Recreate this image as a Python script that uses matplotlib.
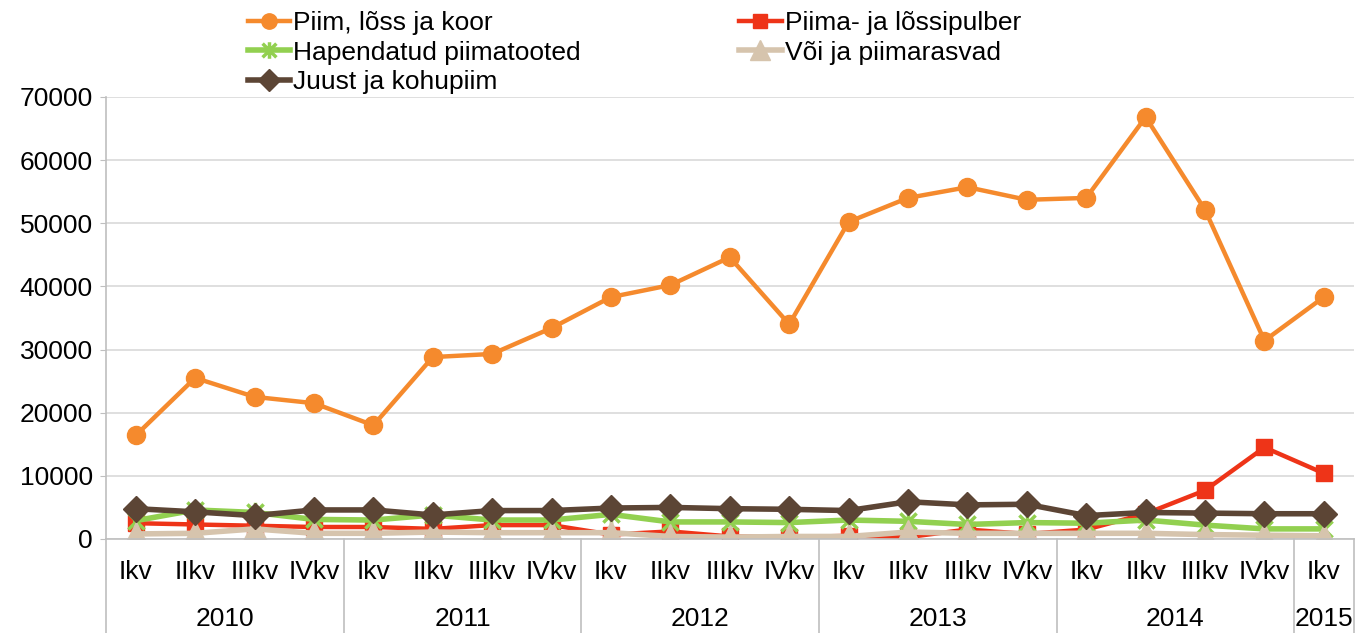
import matplotlib
matplotlib.use("Agg")
import matplotlib.pyplot as plt
import matplotlib.transforms as mtransforms
from matplotlib.path import Path

plt.rcParams['font.family'] = ['Liberation Sans', 'DejaVu Sans']

quarters = ['Ikv', 'IIkv', 'IIIkv', 'IVkv'] * 5 + ['Ikv']
years = ['2010', '2011', '2012', '2013', '2014', '2015']
year_len = [4, 4, 4, 4, 4, 1]

piim = [16400, 25500, 22500, 21500, 18000, 28800, 29300, 33400, 38300, 40200, 44600,
        34000, 50200, 54000, 55700, 53700, 54000, 66800, 52100, 31400, 38300]
pulber = [2500, 2300, 2100, 1900, 1900, 1600, 2200, 2200, 700, 1200, 400,
          300, 500, 300, 1500, 800, 1500, 4000, 7700, 14500, 10400]
hapen = [2900, 4600, 4200, 3100, 3000, 3800, 3000, 3000, 3900, 2700, 2700,
         2600, 3000, 2800, 2300, 2600, 2500, 3000, 2200, 1600, 1600]
voi = [800, 900, 1600, 900, 900, 1100, 1000, 1000, 1000, 400, 300,
       400, 400, 1100, 900, 900, 900, 900, 700, 600, 500]
juust = [4800, 4300, 3700, 4600, 4600, 3800, 4500, 4500, 4900, 5000, 4800,
         4700, 4500, 5900, 5400, 5500, 3700, 4200, 4100, 4000, 4000]

# Excel-like star marker: X with a vertical stroke
star = Path([(-1, -1), (1, 1), (-1, 1), (1, -1), (0, -1.2), (0, 1.2)],
            [Path.MOVETO, Path.LINETO, Path.MOVETO, Path.LINETO, Path.MOVETO, Path.LINETO])

fig = plt.figure(figsize=(13.7, 6.33), dpi=100)
ax = fig.add_axes([0.0774, 0.1485, 0.9106, 0.6985])

x = list(range(len(quarters)))
l1, = ax.plot(x, piim, color='#F58A2D', lw=3.2, marker='o', ms=13, label='Piim, lõss ja koor')
l2, = ax.plot(x, pulber, color='#EE3418', lw=3.2, marker='s', ms=12, label='Piima- ja lõssipulber')
l3, = ax.plot(x, hapen, color='#92D050', lw=4, marker=star, ms=14, mew=2.5, label='Hapendatud piimatooted')
l4, = ax.plot(x, voi, color='#D6C4AD', lw=4, marker='^', ms=17, label='Või ja piimarasvad')
l5, = ax.plot(x, juust, color='#5C4535', lw=4, marker='D', ms=13, label='Juust ja kohupiim')

ax.set_xlim(-0.5, 20.5)
ax.set_ylim(0, 70000)
ax.set_yticks(range(0, 70001, 10000))
ax.tick_params(axis='y', labelsize=19, length=4.5, color='#BFBFBF', pad=5)
ax.set_xticks(x)
ax.set_xticklabels(quarters)
ax.tick_params(axis='x', labelsize=19, length=0, pad=15)
ax.grid(axis='y', color='#D9D9D9', lw=1.2)
ax.set_axisbelow(True)
for s in ['top', 'right']:
    ax.spines[s].set_visible(False)
ax.spines['left'].set_color('#BFBFBF')
ax.spines['bottom'].set_color('#BFBFBF')
ax.spines['left'].set_linewidth(1.2)
ax.spines['bottom'].set_linewidth(1.2)

trans = mtransforms.blended_transform_factory(ax.transData, ax.transAxes)
start = -0.5
ax.plot([start, start], [0, -0.22], transform=trans, color='#BFBFBF', lw=1.2, clip_on=False)
for yr, n in zip(years, year_len):
    end = start + n
    ax.plot([end, end], [0, -0.22], transform=trans, color='#BFBFBF', lw=1.2, clip_on=False)
    ax.text((start + end) / 2, -0.18, yr, transform=trans, ha='center', va='center', fontsize=19)
    start = end

fig.legend(handles=[l1, l3, l5, l2, l4], ncol=2, loc='upper left',
           bbox_to_anchor=(0.181, 0.982), frameon=False, fontsize=19,
           handlelength=1.6, handletextpad=0.12, labelspacing=0.2, columnspacing=6.0,
           borderaxespad=0, borderpad=0, markerscale=0.85)

fig.savefig('out.png', dpi=100)
